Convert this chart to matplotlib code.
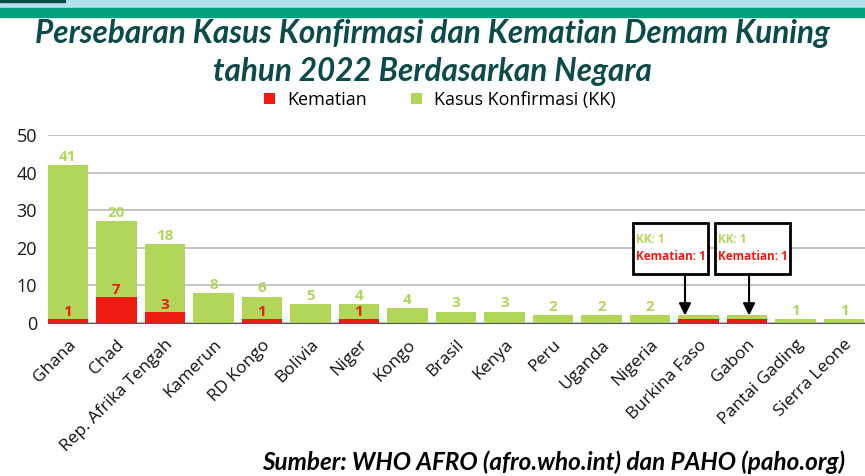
import matplotlib.pyplot as plt
import numpy as np

negara = ['Ghana', 'Chad', 'Rep. Afrika Tengah', 'Kamerun', 'RD Kongo', 'Bolivia',
          'Niger', 'Kongo', 'Brasil', 'Kenya', 'Peru', 'Uganda', 'Nigeria',
          'Burkina Faso', 'Gabon', 'Pantai Gading', 'Sierra Leone']
kematian = [1, 7, 3, 0, 1, 0, 1, 0, 0, 0, 0, 0, 0, 1, 1, 0, 0]
kasus_kk = [41, 20, 18, 8, 6, 5, 4, 4, 3, 3, 2, 2, 2, 1, 1, 1, 1]
pakai_kotak = ['Burkina Faso', 'Gabon']

merah = '#EE1C10'
hijau = '#B1D65A'
teal_gelap = '#0D4A4A'

fig = plt.figure(figsize=(8.65, 4.76), dpi=100)

# pita warna di atas
fig.patches.append(plt.Rectangle((0, 1 - 8/476), 1, 8/476, transform=fig.transFigure,
                                 color='#B3E0EC', zorder=0))
fig.patches.append(plt.Rectangle((0, 1 - 17/476), 1, 9/476, transform=fig.transFigure,
                                 color='#00A07C', zorder=0))
fig.patches.append(plt.Rectangle((0, 1 - 1.5/476), 65/865, 1.5/476, transform=fig.transFigure,
                                 color=teal_gelap, zorder=1))

ax = fig.add_axes([48/865, 1 - 323/476, 1 - 48/865, (323 - 135)/476])

x = np.arange(len(negara))
lebar = 0.83
ax.bar(x, kematian, lebar, color=merah, zorder=3, label='Kematian')
ax.bar(x, kasus_kk, lebar, bottom=kematian, color=hijau, zorder=3,
       label='Kasus Konfirmasi (KK)')

for i, n in enumerate(negara):
    if n in pakai_kotak:
        continue
    total = kematian[i] + kasus_kk[i]
    ax.annotate(str(kasus_kk[i]), (x[i], total), xytext=(0, 1), textcoords='offset points',
                ha='center', va='bottom', color=hijau, fontsize=11, fontweight='bold',
                family='Open Sans')
    if kematian[i] > 0:
        ax.annotate(str(kematian[i]), (x[i], kematian[i]), xytext=(0, 0),
                    textcoords='offset points', ha='center', va='bottom', color=merah,
                    fontsize=11, fontweight='bold', family='Open Sans')

# kotak keterangan untuk Burkina Faso dan Gabon: (geser kotak, geser panah)
for n, kiri_rel, panah_rel in zip(pakai_kotak, [-1.35, -0.66], [-0.28, 0.04]):
    i = negara.index(n)
    total = kematian[i] + kasus_kk[i]
    ax.annotate('', xy=(x[i] + panah_rel, total), xytext=(x[i] + panah_rel, 13.0),
                arrowprops=dict(arrowstyle='-|>', color='black', lw=1.5,
                                mutation_scale=18, shrinkA=0, shrinkB=0), zorder=5)
    kiri = x[i] + kiri_rel
    kotak = plt.Rectangle((kiri, 13.0), 1.55, 13.6, transform=ax.transData,
                          facecolor='white', edgecolor='black', lw=2, zorder=6,
                          clip_on=False)
    ax.add_patch(kotak)
    ax.text(kiri + 0.05, 22.1, 'KK: 1', color=hijau, fontsize=8.5, fontweight='bold',
            va='center', ha='left', zorder=7, family='Open Sans')
    ax.text(kiri + 0.05, 17.8, 'Kematian: 1', color=merah, fontsize=8.5, fontweight='bold',
            va='center', ha='left', zorder=7, family='Open Sans')

ax.set_xlim(-0.41, 16.43)
ax.set_ylim(0, 50)
ax.set_yticks(range(0, 51, 10))
ax.yaxis.grid(True, color='#BFBFBF', lw=1.3, zorder=0)
ax.set_axisbelow(True)
for s in ['left', 'right', 'top']:
    ax.spines[s].set_visible(False)
ax.spines['bottom'].set_color('#595959')
ax.spines['bottom'].set_zorder(4)
ax.tick_params(axis='y', length=0, labelsize=13, labelcolor='#1A1A1A', pad=8)
ax.tick_params(axis='x', length=0, pad=10)
ax.set_xticks(x)
ax.set_xticklabels(negara, rotation=45, ha='right', rotation_mode='anchor',
                   fontsize=12.5, family='Open Sans', color='#111111')
for t in ax.get_yticklabels():
    t.set_family('Open Sans')

judul = dict(ha='center', va='center', fontsize=22.7, fontweight='bold', style='italic',
             color=teal_gelap, family='Lato')
fig.text(0.5, 1 - 33/476, 'Persebaran Kasus Konfirmasi dan Kematian Demam Kuning', **judul)
fig.text(0.5, 1 - 72/476, 'tahun 2022 Berdasarkan Negara', **judul)

ax.legend(loc='center', bbox_to_anchor=(440/865, 1 - 100/476),
          bbox_transform=fig.transFigure, ncol=2, frameon=False,
          prop={'family': 'Open Sans', 'size': 13}, handlelength=0.6, handleheight=0.6,
          columnspacing=2.4, handletextpad=0.7)

fig.text(262/865, 1 - 462/476, 'Sumber: WHO AFRO (afro.who.int) dan PAHO (paho.org)',
         ha='left', va='center', fontsize=17.5, fontweight='bold', style='italic',
         color='black', family='Lato')

fig.savefig('out.png', dpi=100)
